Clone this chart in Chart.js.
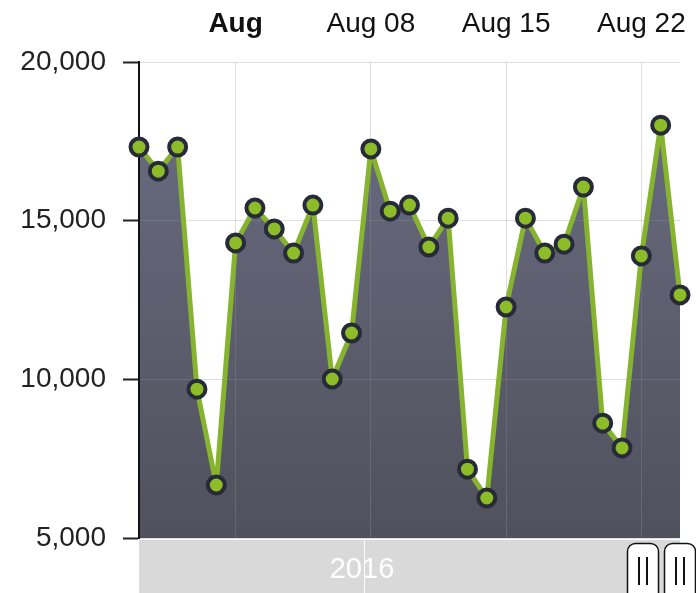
<!DOCTYPE html>
<html>
<head>
<meta charset="utf-8">
<script src="https://cdn.jsdelivr.net/npm/chart.js@4/dist/chart.umd.min.js"></script>
<style>
  html, body { margin: 0; padding: 0; background: #fff; }
  #wrap { width: 696px; height: 593px; position: relative; }
</style>
</head>
<body>
<div id="wrap"><canvas id="trafficChart"></canvas></div>
<script>
// Daily values, Jul 27 - Aug 24 2016
const days = ['Jul 27', 'Jul 28', 'Jul 29', 'Jul 30', 'Jul 31',
  'Aug 01', 'Aug 02', 'Aug 03', 'Aug 04', 'Aug 05', 'Aug 06', 'Aug 07',
  'Aug 08', 'Aug 09', 'Aug 10', 'Aug 11', 'Aug 12', 'Aug 13', 'Aug 14',
  'Aug 15', 'Aug 16', 'Aug 17', 'Aug 18', 'Aug 19', 'Aug 20', 'Aug 21',
  'Aug 22', 'Aug 23', 'Aug 24'];
const values = [17320, 16560, 17320, 9690, 6670,
  14300, 15400, 14740, 13980, 15490, 10010, 11460,
  17260, 15300, 15490, 14170, 15080, 7170, 6260,
  12280, 15080, 13980, 14260, 16060, 8620, 7840,
  13890, 18010, 12660];
// Which days get a label on the top axis, and what it says
const tickDays = ['Aug 01', 'Aug 08', 'Aug 15', 'Aug 22'];
const tickLabels = ['Aug', 'Aug 08', 'Aug 15', 'Aug 22'];
const yTicks = [5000, 10000, 15000, 20000];
const navigatorYear = '2016';

const FONT = '"Liberation Sans", Arial, sans-serif';

// Navigator strip under the plot
const navigatorPlugin = {
  id: 'navigator',
  afterDraw(chart) {
    const ctx = chart.ctx;
    const area = chart.chartArea;
    const top = area.bottom + 2;
    ctx.save();
    ctx.fillStyle = '#d9d9d9';
    ctx.fillRect(area.left, top, area.right - area.left, chart.height - top);
    ctx.strokeStyle = 'rgba(255,255,255,0.9)';
    ctx.lineWidth = 1;
    ctx.beginPath();
    ctx.moveTo(364.5, top);
    ctx.lineTo(364.5, chart.height);
    ctx.stroke();
    ctx.fillStyle = '#ffffff';
    ctx.font = '29px ' + FONT;
    ctx.textAlign = 'center';
    ctx.textBaseline = 'middle';
    ctx.fillText(navigatorYear, 362, 570);
    // handles
    [627, 664].forEach(x => {
      const w = 31, y = 543, h = 60, r = 8;
      ctx.beginPath();
      ctx.roundRect(x + 0.5, y + 0.5, w, h, r);
      ctx.fillStyle = '#ffffff';
      ctx.fill();
      ctx.strokeStyle = '#111';
      ctx.lineWidth = 1.5;
      ctx.stroke();
      ctx.lineWidth = 2;
      ctx.beginPath();
      ctx.moveTo(x + 12, y + 14); ctx.lineTo(x + 12, y + 42);
      ctx.moveTo(x + 20, y + 14); ctx.lineTo(x + 20, y + 42);
      ctx.stroke();
    });
    ctx.restore();
  }
};

const ctx = document.getElementById('trafficChart').getContext('2d');
new Chart(ctx, {
  type: 'line',
  data: {
    labels: days,
    datasets: [{
      data: values,
      borderColor: '#86b42e',
      borderWidth: 5,
      borderJoinStyle: 'round',
      pointBackgroundColor: '#8cbc28',
      pointBorderColor: '#272a38',
      pointBorderWidth: 4,
      pointRadius: 8.5,
      tension: 0,
      fill: 'start',
      backgroundColor: function(context) {
        const a = context.chart.chartArea;
        if (!a) return '#5d5f6e';
        const g = context.chart.ctx.createLinearGradient(0, a.top, 0, a.bottom);
        g.addColorStop(0, '#6b6e84');
        g.addColorStop(1, '#50515c');
        return g;
      }
    }]
  },
  options: {
    responsive: true,
    maintainAspectRatio: false,
    animation: false,
    layout: { autoPadding: false, padding: { left: 0, right: 16, top: 0, bottom: 55 } },
    plugins: {
      legend: { display: false },
      tooltip: { enabled: false },
      filler: { drawTime: 'beforeDraw' }
    },
    scales: {
      x: {
        position: 'top',
        offset: false,
        grid: {
          drawTicks: false,
          color: function(c) {
            return c.tick && tickDays.includes(days[c.tick.value]) ? 'rgba(150,150,150,0.3)' : 'rgba(0,0,0,0)';
          }
        },
        border: { display: false },
        ticks: {
          autoSkip: false,
          maxRotation: 0,
          padding: 21,
          color: '#111',
          font: function(c) {
            const isMonth = c.tick && days[c.tick.value] === tickDays[0];
            return { family: FONT, size: 28, weight: isMonth ? 'bold' : 'normal' };
          },
          callback: function(value) {
            const i = tickDays.indexOf(days[value]);
            return i >= 0 ? tickLabels[i] : '';
          }
        },
        afterFit: function(scale) {
          scale.height = 62;
          scale.paddingLeft = 0;
          scale.paddingRight = 0;
        }
      },
      y: {
        min: 5000,
        max: 20000,
        afterBuildTicks: function(scale) {
          scale.ticks = yTicks.map(v => ({ value: v }));
        },
        grid: {
          color: 'rgba(150,150,150,0.3)',
          tickColor: '#222',
          tickLength: 16,
          tickWidth: 2
        },
        border: { color: '#111', width: 2 },
        ticks: {
          padding: 17,
          color: '#222',
          font: { family: FONT, size: 28 },
          callback: function(value) { return value.toLocaleString('en-US'); }
        },
        afterFit: function(scale) { scale.width = 139; }
      }
    }
  },
  plugins: [navigatorPlugin]
});
</script>
</body>
</html>
